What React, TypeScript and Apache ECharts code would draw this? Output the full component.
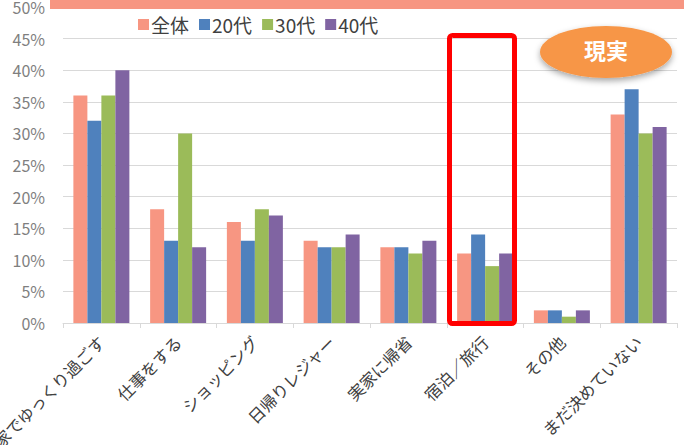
import React, { useEffect, useRef } from "react";
import * as echarts from "echarts";

const categories = ["家でゆっくり過ごす", "仕事をする", "ショッピング", "日帰りレジャー", "実家に帰省", "宿泊／旅行", "その他", "まだ決めていない"];
const seriesNames = ["全体", "20代", "30代", "40代"];
const allAges = [36, 18, 16, 13, 12, 11, 2, 33];
const age20s = [32, 13, 13, 12, 12, 14, 2, 37];
const age30s = [36, 30, 18, 12, 11, 9, 1, 30];
const age40s = [40, 12, 17, 14, 13, 11, 2, 31];
const colors = ["#F79682", "#4F81BD", "#9BBB59", "#8064A2"];

export default function App() {
  const ref = useRef<HTMLDivElement>(null);
  useEffect(() => {
    document.body.style.margin = "0";
    const chart = echarts.init(ref.current!, null, { renderer: "svg" });
    const font = "'Noto Sans CJK JP', 'Noto Sans', sans-serif";
    const data = [allAges, age20s, age30s, age40s];
    chart.setOption({
      animation: false,
      textStyle: { fontFamily: font },
      grid: { left: 63, right: 7, top: 7, bottom: 122, containLabel: false, outerBoundsMode: "none" },
      legend: {
        data: seriesNames,
        left: 133,
        top: 10,
        itemWidth: 11,
        itemHeight: 11,
        itemGap: 10,
        icon: "rect",
        textStyle: { fontSize: 19, color: "#404040", fontFamily: font, padding: [0, 0, 0, -3] },
      },
      xAxis: {
        type: "category",
        data: categories,
        axisLine: { lineStyle: { color: "#D9D9D9", width: 1 } },
        axisTick: { show: true, alignWithLabel: false, length: 5, lineStyle: { color: "#D9D9D9" } },
        axisLabel: { rotate: 45, fontSize: 16.5, color: "#404040", margin: 16, interval: 0, fontFamily: font },
      },
      yAxis: {
        type: "value",
        min: 0,
        max: 50,
        interval: 5,
        axisLine: { show: false },
        axisTick: { show: false },
        splitLine: { lineStyle: { color: "#D9D9D9", width: 1 } },
        axisLabel: { formatter: "{value}%", fontSize: 16, color: "#7F7F7F", margin: 18, fontFamily: font },
      },
      series: data.map((d, i) => ({
        name: seriesNames[i],
        type: "bar",
        data: d,
        barWidth: 14,
        barGap: "0%",
        itemStyle: { color: colors[i] },
      })),
      graphic: [
        { type: "rect", shape: { x: 50, y: 0, width: 634, height: 9 }, style: { fill: "#F79682" }, z: 10 },
        {
          type: "rect",
          shape: { x: 449.5, y: 35.5, width: 65, height: 288, r: 3 },
          style: { fill: "none", stroke: "#FF0000", lineWidth: 5 },
          z: 10,
        },
        {
          type: "ellipse",
          shape: { cx: 606, cy: 52, rx: 66, ry: 26 },
          style: { fill: "#F79646", shadowBlur: 6, shadowColor: "rgba(0,0,0,0.35)", shadowOffsetY: 3 },
          z: 10,
        },
        {
          type: "text",
          x: 606,
          y: 49,
          style: { text: "現実", fill: "#FFFFFF", fontSize: 22, fontWeight: "bold", fontFamily: font, align: "center", verticalAlign: "middle" },
          z: 11,
        },
      ],
    });
    return () => chart.dispose();
  }, []);
  return <div ref={ref} style={{ width: 684, height: 445 }} />;
}
